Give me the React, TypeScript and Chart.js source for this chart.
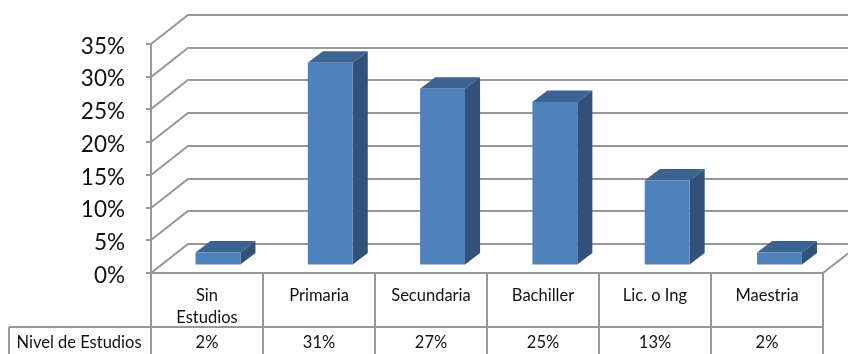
import React, { useEffect, useRef } from "react";
import { Chart, registerables } from "chart.js";

Chart.register(...registerables);

const categories: (string | string[])[] = [
  ["Sin", "Estudios"],
  "Primaria",
  "Secundaria",
  "Bachiller",
  "Lic. o Ing",
  "Maestria",
];
const seriesName = "Nivel de Estudios";
const values = [2, 31, 27, 25, 13, 2];

const FONT = "Lato, 'Open Sans', sans-serif";
const LINE = "#989898";
const FRONT = "#4f81bd";
const TOP = "#3c6392";
const SIDE = "#32527a";

// Oblique projection of the box: how far the back wall and the bar depth shift.
const WALL = { dx: 37, dy: -29 };
const BAR_SHIFT = { dx: 10.4, dy: -7.5, spread: 1.0027 };
const BAR_DEPTH = { dx: 15, dy: -11.5 };
const ROW_Y = 327;
const TABLE_LEFT = 9;

const stroke = (ctx: CanvasRenderingContext2D, pts: number[][]) => {
  ctx.beginPath();
  pts.forEach(([x, y], i) => (i ? ctx.lineTo(x, y) : ctx.moveTo(x, y)));
  ctx.stroke();
};
const fill = (ctx: CanvasRenderingContext2D, pts: number[][], color: string) => {
  ctx.fillStyle = color;
  ctx.beginPath();
  pts.forEach(([x, y], i) => (i ? ctx.lineTo(x, y) : ctx.moveTo(x, y)));
  ctx.closePath();
  ctx.fill();
};

// Back wall, side wall and floor lines, then the shifted 3D bar sides.
const boxPlugin = {
  id: "box3d",
  beforeDatasetsDraw(chart: any) {
    const { ctx, chartArea: a, scales } = chart;
    ctx.save();
    ctx.strokeStyle = LINE;
    ctx.lineWidth = 2;
    for (const t of scales.y.ticks) {
      const y = Math.round(scales.y.getPixelForValue(t.value));
      stroke(ctx, [
        [a.left, y],
        [a.left + WALL.dx, y + WALL.dy],
        [chart.width + 20, y + WALL.dy],
      ]);
    }
    const floor = Math.round(scales.y.getPixelForValue(0));
    stroke(ctx, [
      [a.right, floor],
      [a.right + WALL.dx, floor + WALL.dy],
    ]);
    ctx.restore();

    ctx.save();
    ctx.translate(BAR_SHIFT.dx, BAR_SHIFT.dy);
    ctx.scale(BAR_SHIFT.spread, 1);
    for (const bar of chart.getDatasetMeta(0).data) {
      const l = bar.x - bar.width / 2;
      const r = bar.x + bar.width / 2;
      const { dx, dy } = BAR_DEPTH;
      fill(ctx, [[l, bar.y], [l + dx, bar.y + dy], [r + dx, bar.y + dy], [r, bar.y]], TOP);
      fill(ctx, [[r, bar.y], [r + dx, bar.y + dy], [r + dx, bar.base + dy], [r, bar.base]], SIDE);
    }
  },
  afterDatasetsDraw(chart: any) {
    const { ctx, chartArea: a, scales } = chart;
    ctx.restore();

    // Data table under the plot.
    const n = categories.length;
    const step = (a.right - a.left) / n;
    const bottom = chart.height;
    ctx.save();
    ctx.strokeStyle = LINE;
    ctx.lineWidth = 2;
    stroke(ctx, [[a.left, a.bottom], [a.right, a.bottom]]);
    stroke(ctx, [[TABLE_LEFT, ROW_Y], [a.right, ROW_Y]]);
    stroke(ctx, [[TABLE_LEFT, ROW_Y], [TABLE_LEFT, bottom]]);
    stroke(ctx, [[a.left, a.top], [a.left, bottom]]);
    for (let i = 1; i <= n; i++) {
      const x = a.left + i * step;
      stroke(ctx, [[x, a.bottom], [x, bottom]]);
    }
    ctx.fillStyle = "#111";
    ctx.font = `16.5px ${FONT}`;
    ctx.textAlign = "center";
    ctx.textBaseline = "middle";
    ctx.fillText(seriesName, (TABLE_LEFT + a.left) / 2 - 1, 343);
    values.forEach((v, i) => {
      ctx.fillText(`${v}%`, scales.x.getPixelForValue(i), 343);
    });
    ctx.restore();
  },
};

export default function App() {
  const ref = useRef<HTMLCanvasElement>(null);
  useEffect(() => {
    const chart = new Chart(ref.current!, {
      type: "bar",
      data: {
        labels: categories as any,
        datasets: [
          {
            label: seriesName,
            data: values,
            backgroundColor: FRONT,
            categoryPercentage: 1,
            barPercentage: 0.4,
            clip: false as any,
          },
        ],
      },
      plugins: [boxPlugin as any],
      options: {
        animation: false,
        responsive: false,
        layout: { padding: { top: 44, right: 25, left: 0, bottom: 0 } },
        plugins: { legend: { display: false }, tooltip: { enabled: false } },
        scales: {
          y: {
            min: 0,
            max: 35,
            ticks: {
              stepSize: 5,
              padding: 21,
              labelOffset: 2.5,
              color: "#111",
              font: { family: FONT, size: 22.5 },
              callback: (v: any) => `${v}%`,
            },
            grid: { drawOnChartArea: false, tickLength: 5, color: LINE, lineWidth: 2 },
            border: { display: false },
            afterFit: (s: any) => {
              s.width = 151;
            },
          },
          x: {
            ticks: {
              padding: 3,
              color: "#111",
              maxRotation: 0,
              autoSkip: false,
              font: { family: FONT, size: 16.5, lineHeight: 1.38 },
            },
            grid: { display: false },
            border: { display: false },
            afterFit: (s: any) => {
              s.height = 81;
            },
          },
        },
      },
    });
    return () => chart.destroy();
  }, []);
  return (
    <div style={{ position: "absolute", left: 0, top: 0 }}>
      <canvas ref={ref} width={848} height={354} style={{ display: "block" }} />
    </div>
  );
}
